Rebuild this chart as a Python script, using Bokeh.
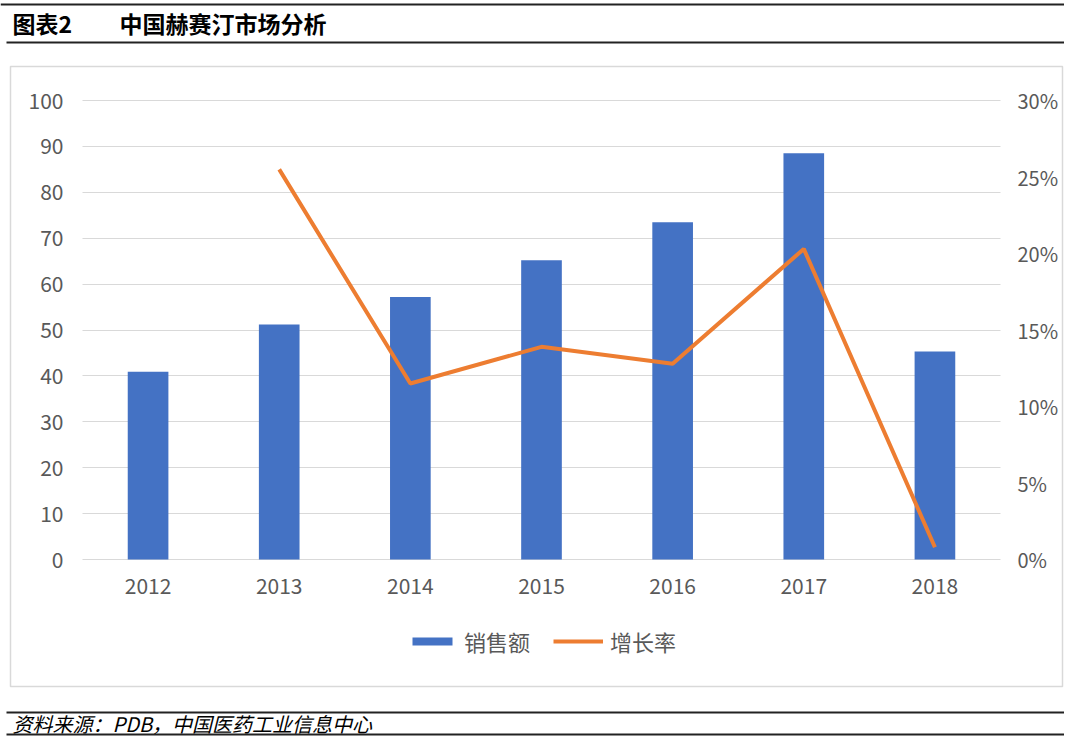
from bokeh.plotting import figure
from bokeh.models import (Range1d, LinearAxis, FixedTicker, NumeralTickFormatter,
                          Label, Legend, Grid)
from bokeh.embed import file_html
from bokeh.resources import INLINE

# ---------------- data ----------------
years = ["2012", "2013", "2014", "2015", "2016", "2017", "2018"]
sales = [40.9, 51.2, 57.2, 65.2, 73.5, 88.5, 45.3]
growth_years = ["2013", "2014", "2015", "2016", "2017", "2018"]
growth = [0.255, 0.115, 0.139, 0.128, 0.203, 0.008]
left_ticks = [0, 10, 20, 30, 40, 50, 60, 70, 80, 90, 100]
right_ticks = [0, 0.05, 0.10, 0.15, 0.20, 0.25, 0.30]
series_names = ["销售额", "增长率"]

title_num = "图表2"
title_text = "中国赫赛汀市场分析"
source_text = "资料来源：PDB，中国医药工业信息中心"

# ---------------- layout constants (pixels) ----------------
FONT = "Noto Sans CJK SC"
GREY = "#595959"
W, H = 1064, 737
FL, FR, FT, FB = 82, 1000, 100, 559          # plot area
YMAX, PMAX = 100, 0.30

n = len(years)
xpos = [i + 1 for i in range(n)]
gx = [years.index(y) + 1 for y in growth_years]

ux = (FR - FL) / n
uy = (FB - FT) / YMAX
x0 = 0.5 - FL / ux
x1 = 0.5 + (W - FL) / ux
y0 = -(H - FB) / uy
y1 = FB / uy

p = figure(width=W, height=H, x_range=Range1d(x0, x1), y_range=Range1d(y0, y1),
           output_backend="svg", toolbar_location=None,
           x_axis_location=None, y_axis_location=None, min_border=0)
p.outline_line_color = None
for r in list(p.center):
    if isinstance(r, Grid):
        r.visible = False
p.extra_y_ranges = {"pct": Range1d(y0 / YMAX * PMAX, y1 / YMAX * PMAX),
                    "py": Range1d(H, 0)}
p.extra_x_ranges = {"px": Range1d(0, W)}


def style_axis(ax, size):
    ax.axis_line_color = None
    ax.major_tick_line_color = None
    ax.minor_tick_line_color = None
    ax.major_tick_out = 0
    ax.major_tick_in = 0
    ax.major_label_text_font = FONT
    ax.major_label_text_font_size = size
    ax.major_label_text_color = GREY


# grid
grid = Grid(dimension=1, ticker=FixedTicker(ticks=left_ticks),
            grid_line_color="#D9D9D9", grid_line_width=1)
try:
    grid.cross_bounds = (0.5, n + 0.5)
    p.add_layout(grid)
except Exception:
    p.segment(x0=[0.5] * len(left_ticks), x1=[n + 0.5] * len(left_ticks),
              y0=left_ticks, y1=left_ticks, line_color="#D9D9D9", line_width=1)

# axes
la = LinearAxis(fixed_location=0.5, ticker=FixedTicker(ticks=left_ticks), bounds=(0, YMAX))
style_axis(la, "21px")
la.major_label_standoff = 19
p.add_layout(la, "left")

ra = LinearAxis(y_range_name="pct", fixed_location=n + 0.5, ticker=FixedTicker(ticks=right_ticks),
                formatter=NumeralTickFormatter(format="0%"), bounds=(0, PMAX))
style_axis(ra, "20px")
ra.major_label_standoff = 17
p.add_layout(ra, "right")

ba = LinearAxis(fixed_location=0, ticker=FixedTicker(ticks=xpos), bounds=(0.5, n + 0.5),
                major_label_overrides={xp: y for xp, y in zip(xpos, years)})
style_axis(ba, "21px")
ba.major_label_standoff = 18
p.add_layout(ba, "below")

# data
bars = p.vbar(x=xpos, top=sales, width=0.31, fill_color="#4472C4", line_color=None)
line = p.line(x=gx, y=growth, y_range_name="pct", line_color="#ED7D31", line_width=4)

legend = Legend(items=[(series_names[0], [bars]), (series_names[1], [line])],
                orientation="horizontal", location=(407, H - 657))
legend.label_text_font = FONT
legend.label_text_font_size = "22px"
legend.label_text_color = GREY
legend.glyph_width = 50
legend.glyph_height = 10
legend.label_standoff = 7
legend.spacing = 23
legend.padding = 0
legend.margin = 0
legend.border_line_color = None
legend.background_fill_alpha = 0
p.add_layout(legend)

# decorations (pixel coordinates)
deco = dict(x_range_name="px", y_range_name="py")
p.quad(left=[10], right=[W - 2], top=[66], bottom=[686], fill_alpha=0,
       line_color="#D9D9D9", line_width=1.5, **deco)
rule_top = [3, 41, 711, 733]
p.quad(left=[0, 6, 6, 6], right=[W] * 4, top=rule_top, bottom=[t + 2 for t in rule_top],
       fill_color="#222222", line_color=None, **deco)

p.add_layout(Label(x=12, y=22, text=title_num, text_font=FONT, text_font_size="23px",
                   text_font_style="bold", text_color="black",
                   text_baseline="middle", text_align="left", **deco))
p.add_layout(Label(x=119, y=22, text=title_text, text_font=FONT, text_font_size="23px",
                   text_font_style="bold", text_color="black",
                   text_baseline="middle", text_align="left", **deco))
p.add_layout(Label(x=12, y=723, text=source_text, text_font=FONT, text_font_size="20px",
                   text_font_style="italic", text_color="black",
                   text_baseline="middle", text_align="left", **deco))

open("out.html", "w").write(file_html(p, INLINE))
